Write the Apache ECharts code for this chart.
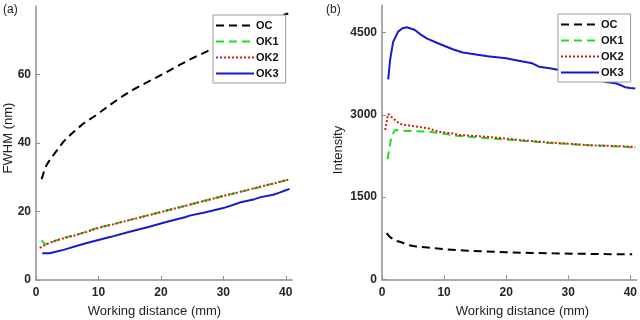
<!DOCTYPE html>
<html>
<head>
<meta charset="utf-8">
<script src="https://cdn.jsdelivr.net/npm/echarts@6/dist/echarts.min.js"></script>
<style>
html,body{margin:0;padding:0;background:#fff;}
#chart{width:640px;height:320px;}
</style>
</head>
<body>
<div id="chart"></div>
<script>
// ---- Panel (a): FWHM vs working distance ----
const seriesNames = ['OC', 'OK1', 'OK2', 'OK3'];
const xTicks = [0, 10, 20, 30, 40];
const yTicksA = [0, 20, 40, 60];
const yTicksB = [0, 1500, 3000, 4500];

const distOC_a = [0.9, 1.2, 1.7, 2.2, 3.0, 4.4, 6.0, 7.6, 9.7, 11.3, 13.0, 15.0, 17.0, 18.8, 21.0, 23.0, 25.0, 27.3, 30.0, 33.0, 36.0, 39.4, 40.4];
const fwhmOC = [29.4, 31.2, 33.6, 35.0, 37.0, 40.4, 43.2, 45.7, 48.2, 50.4, 52.6, 55.0, 57.0, 58.7, 60.8, 62.8, 64.7, 66.7, 69.1, 71.7, 74.3, 77.3, 77.8];

const distOK1_a = [0.9, 1.4, 2.2, 4.4, 7, 10, 13, 16, 19, 22, 25, 28, 31, 34, 37, 40, 40.6];
const fwhmOK1 = [11.6, 10.4, 10.9, 12.3, 13.5, 15.3, 16.6, 18.0, 19.4, 20.8, 22.2, 23.6, 25.0, 26.3, 27.7, 29.1, 29.5];

const distOK2_a = [0.6, 1.0, 2.0, 3.0, 4.5, 6.0, 8.0, 10.0, 12.0, 15.0, 18.0, 21.0, 24.0, 27.0, 30.0, 33.0, 36.0, 39.0, 40.6];
const fwhmOK2 = [9.4, 9.8, 10.7, 11.4, 12.2, 12.9, 14.0, 15.2, 16.1, 17.5, 18.9, 20.3, 21.7, 23.1, 24.5, 25.9, 27.3, 28.6, 29.4];

const distOK3_a = [1.0, 2.2, 3.0, 4.4, 7.0, 8.6, 10, 12, 15, 18, 21, 24, 24.6, 27, 30, 32, 32.6, 35, 36, 38, 39, 40, 40.6];
const fwhmOK3 = [7.8, 7.8, 8.2, 8.8, 10.2, 11.0, 11.7, 12.6, 14.1, 15.5, 17.0, 18.4, 18.8, 19.7, 21.0, 22.2, 22.6, 23.6, 24.2, 24.9, 25.5, 26.2, 26.6];

// ---- Panel (b): Intensity vs working distance ----
const distOC_b = [0.75, 1.3, 2.1, 3, 4.2, 5.5, 6.9, 8.5, 10.4, 12, 13.8, 16, 20, 24, 27.5, 32, 36, 40.3];
const intOC = [840, 770, 705, 680, 626, 600, 584, 565, 547, 535, 522, 510, 493, 482, 474, 466, 460, 456];

const distOK1_b = [0.9, 1.5, 2.1, 4.2, 7.4, 9.5, 12, 15, 19.4, 23, 26.4, 30, 33, 36, 40, 40.8];
const intOK1 = [2190, 2600, 2725, 2706, 2694, 2665, 2620, 2590, 2555, 2525, 2493, 2470, 2448, 2435, 2410, 2405];

const distOK2_b = [0.5, 1.0, 1.3, 2.1, 2.9, 4.8, 7.4, 9.3, 11.2, 12.5, 16.8, 19, 22.1, 25, 27.5, 30, 32.8, 35, 38, 40, 40.8];
const intOK2 = [2725, 3017, 2990, 2907, 2834, 2798, 2756, 2690, 2665, 2633, 2602, 2580, 2542, 2515, 2493, 2475, 2451, 2440, 2430, 2420, 2410];

const distOK3_b = [1.0, 1.3, 1.8, 2.6, 3.3, 4.0, 5.3, 6.2, 7.2, 9.0, 11.4, 13.0, 14.6, 17, 20, 22, 24.2, 25.3, 27, 28.5, 30, 32, 34, 35.2, 36, 37.6, 38.5, 39.2, 40, 40.8];
const intOK3 = [3650, 4000, 4336, 4519, 4580, 4599, 4550, 4470, 4398, 4307, 4198, 4140, 4112, 4070, 4033, 3990, 3942, 3880, 3850, 3820, 3790, 3730, 3670, 3637, 3600, 3577, 3540, 3504, 3490, 3480];

const zip = (xs, ys) => xs.map((x, i) => [x, ys[i]]);

const colors = ['#000000', '#22dd22', '#dd1a1a', '#1a1acc'];
const dashes = [[8, 5], [8, 5], [2, 2], 'solid'];
const FONT = 'Liberation Sans, Arial, sans-serif';
const AXIS_COLOR = '#8f8f8f';

function mkSeries(name, idx, data, axisIdx) {
  return {
    name: name, type: 'line', xAxisIndex: axisIdx, yAxisIndex: axisIdx,
    data: data, showSymbol: false, symbol: 'none', smooth: false,
    lineStyle: { color: colors[idx], width: 2, type: dashes[idx] },
    itemStyle: { color: colors[idx] },
    emphasis: { disabled: true }, animation: false
  };
}

function mkX(idx) {
  return {
    gridIndex: idx, type: 'value', min: 0, max: 41,
    axisLine: { lineStyle: { color: AXIS_COLOR, width: 1.5 } },
    axisTick: { inside: true, length: 4, lineStyle: { color: AXIS_COLOR }, customValues: xTicks },
    axisLabel: { customValues: xTicks, color: '#262626', fontWeight: 'bold', fontSize: 12, fontFamily: FONT, margin: 7, formatter: v => String(v) },
    splitLine: { show: false }
  };
}
function mkY(idx, max, ticks) {
  return {
    gridIndex: idx, type: 'value', min: 0, max: max,
    axisLine: { show: true, lineStyle: { color: AXIS_COLOR, width: 1.5 } },
    axisTick: { show: true, inside: true, length: 4, lineStyle: { color: AXIS_COLOR }, customValues: ticks },
    axisLabel: { customValues: ticks, color: '#262626', fontWeight: 'bold', fontSize: 12, fontFamily: FONT, margin: 5, formatter: v => String(v) },
    splitLine: { show: false }
  };
}
function mkLegend(left, top) {
  return {
    data: seriesNames, orient: 'vertical', left: left, top: top,
    backgroundColor: '#ffffff', borderColor: '#9a9a9a', borderWidth: 1,
    padding: [5, 7, 4, 2], itemWidth: 38, itemHeight: 10, itemGap: 5,
    itemStyle: { opacity: 0 },
    textStyle: { fontSize: 11, fontWeight: 'bold', color: '#111', fontFamily: FONT, padding: [0, 0, 0, -3] },
    selectedMode: false, z: 10
  };
}

const chart = echarts.init(document.getElementById('chart'), null, { renderer: 'canvas' });
chart.setOption({
  animation: false,
  backgroundColor: '#ffffff',
  grid: [
    { left: 36, top: 6, width: 256, height: 274 },
    { left: 382, top: 5.3, width: 256, height: 274 }
  ],
  xAxis: [mkX(0), mkX(1)],
  yAxis: [mkY(0, 80, yTicksA), mkY(1, 5000, yTicksB)],
  legend: [mkLegend(213, 15), mkLegend(558, 14)],
  series: [
    mkSeries('OC', 0, zip(distOC_a, fwhmOC), 0),
    mkSeries('OK1', 1, zip(distOK1_a, fwhmOK1), 0),
    mkSeries('OK2', 2, zip(distOK2_a, fwhmOK2), 0),
    mkSeries('OK3', 3, zip(distOK3_a, fwhmOK3), 0),
    mkSeries('OC', 0, zip(distOC_b, intOC), 1),
    mkSeries('OK1', 1, zip(distOK1_b, intOK1), 1),
    mkSeries('OK2', 2, zip(distOK2_b, intOK2), 1),
    mkSeries('OK3', 3, zip(distOK3_b, intOK3), 1)
  ],
  graphic: [
    { type: 'text', left: 3, top: 4, style: { text: '(a)', fontSize: 12, fontFamily: FONT, fill: '#222' } },
    { type: 'text', left: 326, top: 4, style: { text: '(b)', fontSize: 12, fontFamily: FONT, fill: '#222' } },
    { type: 'text', x: 154.5, y: 311, style: { text: 'Working distance (mm)', fontSize: 13, fontFamily: FONT, fill: '#222', align: 'center', verticalAlign: 'middle' } },
    { type: 'text', x: 522.5, y: 311, style: { text: 'Working distance (mm)', fontSize: 13, fontFamily: FONT, fill: '#222', align: 'center', verticalAlign: 'middle' } },
    { type: 'text', x: 8, y: 138, rotation: Math.PI / 2, style: { text: 'FWHM (nm)', fontSize: 13, fontFamily: FONT, fill: '#222', align: 'center', verticalAlign: 'middle' } },
    { type: 'text', x: 338, y: 150, rotation: Math.PI / 2, style: { text: 'Intensity', fontSize: 13, fontFamily: FONT, fill: '#222', align: 'center', verticalAlign: 'middle' } }
  ]
});
</script>
</body>
</html>
